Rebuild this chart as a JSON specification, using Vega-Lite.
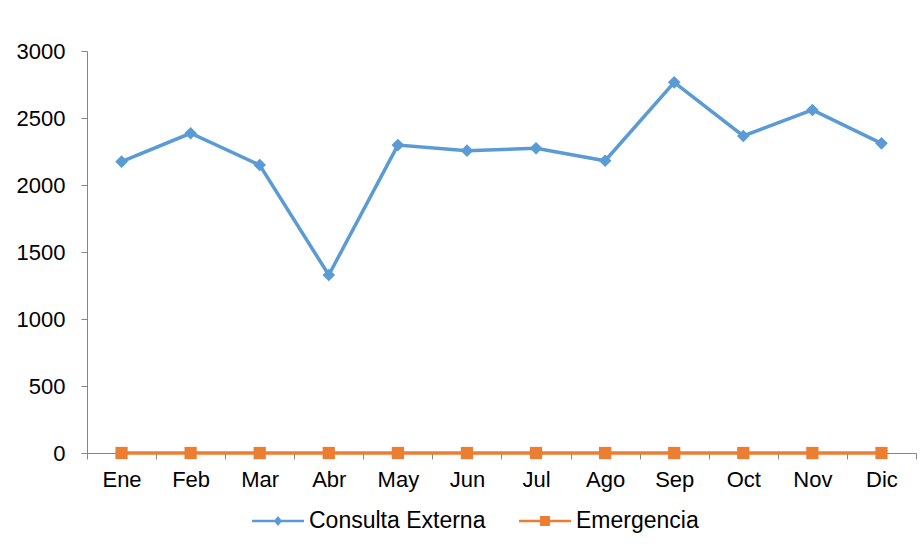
{
  "$schema": "https://vega.github.io/schema/vega-lite/v6.json",
  "autosize": {"type": "none"},
  "width": 829,
  "height": 402,
  "padding": {"left": 87, "top": 51, "right": 4, "bottom": 97},
  "background": "white",
  "config": {
    "view": {"stroke": null},
    "font": "Liberation Sans",
    "axis": {
      "labelFont": "Liberation Sans",
      "labelFontSize": 22,
      "labelColor": "#000000",
      "domainColor": "#868686",
      "tickColor": "#868686",
      "domainWidth": 1,
      "tickWidth": 1,
      "tickSize": 6,
      "grid": false,
      "title": null
    },
    "legend": {
      "orient": "none",
      "direction": "horizontal",
      "legendX": 165,
      "legendY": 444,
      "title": null,
      "labelFont": "Liberation Sans",
      "labelFontSize": 23,
      "labelColor": "#000000",
      "labelLimit": 400,
      "symbolSize": 2704,
      "symbolStrokeWidth": 0,
      "symbolOpacity": 1,
      "labelOffset": 5,
      "columnPadding": 33
    }
  },
  "data": {
    "values": [
      {"mes": "Ene", "serie": "Consulta Externa", "valor": 2174},
      {"mes": "Feb", "serie": "Consulta Externa", "valor": 2386},
      {"mes": "Mar", "serie": "Consulta Externa", "valor": 2149},
      {"mes": "Abr", "serie": "Consulta Externa", "valor": 1328},
      {"mes": "May", "serie": "Consulta Externa", "valor": 2298},
      {"mes": "Jun", "serie": "Consulta Externa", "valor": 2256},
      {"mes": "Jul", "serie": "Consulta Externa", "valor": 2274},
      {"mes": "Ago", "serie": "Consulta Externa", "valor": 2181},
      {"mes": "Sep", "serie": "Consulta Externa", "valor": 2766},
      {"mes": "Oct", "serie": "Consulta Externa", "valor": 2366},
      {"mes": "Nov", "serie": "Consulta Externa", "valor": 2560},
      {"mes": "Dic", "serie": "Consulta Externa", "valor": 2311},
      {"mes": "Ene", "serie": "Emergencia", "valor": 0},
      {"mes": "Feb", "serie": "Emergencia", "valor": 0},
      {"mes": "Mar", "serie": "Emergencia", "valor": 0},
      {"mes": "Abr", "serie": "Emergencia", "valor": 0},
      {"mes": "May", "serie": "Emergencia", "valor": 0},
      {"mes": "Jun", "serie": "Emergencia", "valor": 0},
      {"mes": "Jul", "serie": "Emergencia", "valor": 0},
      {"mes": "Ago", "serie": "Emergencia", "valor": 0},
      {"mes": "Sep", "serie": "Emergencia", "valor": 0},
      {"mes": "Oct", "serie": "Emergencia", "valor": 0},
      {"mes": "Nov", "serie": "Emergencia", "valor": 0},
      {"mes": "Dic", "serie": "Emergencia", "valor": 0}
    ]
  },
  "encoding": {
    "x": {
      "field": "mes",
      "type": "ordinal",
      "sort": ["Ene", "Feb", "Mar", "Abr", "May", "Jun", "Jul", "Ago", "Sep", "Oct", "Nov", "Dic"],
      "scale": {"type": "band", "paddingInner": 0, "paddingOuter": 0},
      "bandPosition": 0.5,
      "axis": {"tickBand": "extent", "labelAngle": 0, "labelPadding": 10, "labelBaseline": "top"}
    },
    "y": {
      "field": "valor",
      "type": "quantitative",
      "scale": {"domain": [0, 3000], "nice": false, "zero": true},
      "axis": {"values": [0, 500, 1000, 1500, 2000, 2500, 3000], "format": "d", "labelPadding": 16}
    },
    "color": {
      "field": "serie",
      "type": "nominal",
      "scale": {"domain": ["Consulta Externa", "Emergencia"], "range": ["#5B9BD5", "#ED7D31"]}
    }
  },
  "layer": [
    {
      "mark": {"type": "line", "strokeWidth": 3.5}
    },
    {
      "transform": [{"filter": "datum.serie === 'Consulta Externa'"}],
      "mark": {"type": "point", "filled": true, "opacity": 1, "size": 160, "shape": "diamond"}
    },
    {
      "transform": [{"filter": "datum.serie === 'Emergencia'"}],
      "mark": {"type": "point", "filled": true, "opacity": 1, "size": 150, "shape": "square"}
    },
    {
      "mark": {"type": "point", "filled": true, "size": 0},
      "encoding": {
        "shape": {
          "field": "serie",
          "type": "nominal",
          "scale": {"domain": ["Consulta Externa", "Emergencia"], "range": ["M-1,-0.05L1,-0.05L1,0.05L-1,0.05Z M0,-0.19L0.16,0L0,0.19L-0.16,0Z", "M-1,-0.05L1,-0.05L1,0.05L-1,0.05Z M-0.19,-0.19L0.19,-0.19L0.19,0.19L-0.19,0.19Z"]}
        }
      }
    }
  ]
}
